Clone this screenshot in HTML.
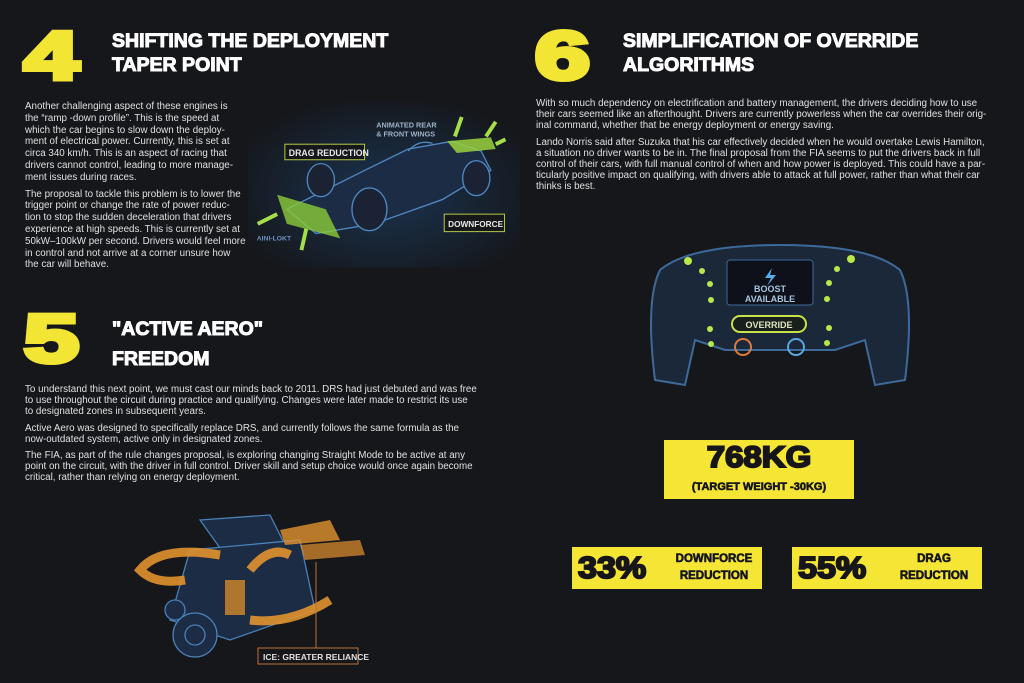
<!DOCTYPE html>
<html><head><meta charset="utf-8"><style>
*{margin:0;padding:0;box-sizing:border-box}
body{width:1024px;height:683px;background:#15171b;position:relative;overflow:hidden;font-family:"Liberation Sans",sans-serif;color:#e4e4e4}
.a{position:absolute}
.big{position:absolute;color:#f3e533;font-weight:bold;font-size:68px;line-height:1;transform:scaleX(1.45);transform-origin:left top;-webkit-text-stroke:5px #f3e533}
.h{position:absolute;color:#fff;font-weight:bold;font-size:19.5px;line-height:24px;-webkit-text-stroke:1px #fff}
.p{position:absolute;font-size:9.8px;line-height:11.2px;color:#e0e0e0;white-space:nowrap}
.p div{margin-bottom:5px}
.y{position:absolute;background:#f5e636;color:#16161a;font-weight:bold;text-align:center}
.y .s{-webkit-text-stroke:0.6px #16161a}
</style></head><body>

<div class="big" style="left:24px;top:22px">4</div>
<div class="h" style="left:112px;top:29px">SHIFTING THE DEPLOYMENT<br>TAPER POINT</div>
<div class="big" style="left:535px;top:22px">6</div>
<div class="h" style="left:623px;top:29px">SIMPLIFICATION OF OVERRIDE<br>ALGORITHMS</div>
<div class="big" style="left:24px;top:305px">5</div>
<div class="h" style="left:112px;top:314px;line-height:30px">"ACTIVE AERO"<br>FREEDOM</div>

<div class="p" style="left:25px;top:101px;line-height:11.8px"><div>Another challenging aspect of these engines is<br>the “ramp -down profile”. This is the speed at<br>which the car begins to slow down the deploy-<br>ment of electrical power. Currently, this is set at<br>circa 340 km/h. This is an aspect of racing that<br>drivers cannot control, leading to more manage-<br>ment issues during races.</div><div>The proposal to tackle this problem is to lower the<br>trigger point or change the rate of power reduc-<br>tion to stop the sudden deceleration that drivers<br>experience at high speeds. This is currently set at<br>50kW–100kW per second. Drivers would feel more<br>in control and not arrive at a corner unsure how<br>the car will behave.</div></div>

<div class="p" style="left:536px;top:98px"><div>With so much dependency on electrification and battery management, the drivers deciding how to use<br>their cars seemed like an afterthought. Drivers are currently powerless when the car overrides their orig-<br>inal command, whether that be energy deployment or energy saving.</div><div>Lando Norris said after Suzuka that his car effectively decided when he would overtake Lewis Hamilton,<br>a situation no driver wants to be in. The final proposal from the FIA seems to put the drivers back in full<br>control of their cars, with full manual control of when and how power is deployed. This could have a par-<br>ticularly positive impact on qualifying, with drivers able to attack at full power, rather than what their car<br>thinks is best.</div></div>

<div class="p" style="left:25px;top:384px"><div>To understand this next point, we must cast our minds back to 2011. DRS had just debuted and was free<br>to use throughout the circuit during practice and qualifying. Changes were later made to restrict its use<br>to designated zones in subsequent years.</div><div>Active Aero was designed to specifically replace DRS, and currently follows the same formula as the<br>now-outdated system, active only in designated zones.</div><div>The FIA, as part of the rule changes proposal, is exploring changing Straight Mode to be active at any<br>point on the circuit, with the driver in full control. Driver skill and setup choice would once again become<br>critical, rather than relying on energy deployment.</div></div>

<!-- car -->
<svg class="a" style="left:248px;top:100px" width="272" height="170" viewBox="0 0 280 170">
<defs><radialGradient id="cg" cx="50%" cy="55%" r="60%"><stop offset="0" stop-color="#1b3450"/><stop offset="1" stop-color="#15171b"/></radialGradient></defs>
<rect width="280" height="170" fill="url(#cg)"/>
<g fill="none" stroke="#4d86c0" stroke-width="1.4">
<path d="M40 110 L120 70 L165 48 L210 40 L240 50 L250 70 L200 100 L130 125 L70 135 Z" fill="#1c2c44"/>
<ellipse cx="125" cy="110" rx="18" ry="22" fill="#1a2233"/>
<ellipse cx="235" cy="78" rx="14" ry="18" fill="#1a2233"/>
<ellipse cx="75" cy="80" rx="14" ry="17" fill="#1a2233"/>
<path d="M165 50 Q175 38 190 42"/>
</g>
<path d="M30 95 L80 110 L95 140 L40 125 Z" fill="#8ccc3a" opacity=".8"/>
<path d="M205 40 L250 36 L255 48 L215 52 Z" fill="#9ad23e" opacity=".85"/>
<g stroke="#a6df4a" stroke-width="4" fill="none"><path d="M30 115 L10 125"/><path d="M60 130 L55 152"/><path d="M213 35 L220 15"/><path d="M245 35 L255 20"/><path d="M255 43 L265 38"/></g>
<rect x="38" y="43" width="82" height="16" fill="#15171b" stroke="#b9cf4a"/>
<text x="42" y="55" font-size="9" fill="#e8e8e8" font-weight="bold" font-family="Liberation Sans">DRAG REDUCTION</text>
<rect x="202" y="115" width="62" height="18" fill="#15171b" stroke="#b9cf4a"/>
<text x="206" y="128" font-size="8.5" fill="#e8e8e8" font-weight="bold" font-family="Liberation Sans">DOWNFORCE</text>
<text x="132" y="26" font-size="7.5" fill="#a0b2c8" font-weight="bold" font-family="Liberation Sans">ANIMATED REAR</text>
<text x="132" y="35" font-size="7.5" fill="#a0b2c8" font-weight="bold" font-family="Liberation Sans">&amp; FRONT WINGS</text>
<text x="9" y="142" font-size="7" fill="#6d8fc0" font-weight="bold" font-family="Liberation Sans">AINI-LOKT</text>
</svg>

<!-- steering wheel -->
<svg class="a" style="left:640px;top:240px" width="280" height="150" viewBox="0 0 280 150">
<path d="M20 30 Q50 5 140 5 Q230 5 260 30 Q275 60 265 140 L235 145 L225 100 L195 110 L85 110 L55 100 L45 145 L15 140 Q5 60 20 30 Z" fill="#1b283a" stroke="#3d6a9a" stroke-width="2"/>
<rect x="87" y="20" width="86" height="45" rx="3" fill="#0e1119" stroke="#3d6a9a"/>
<text x="130" y="52" font-size="9" fill="#a8c4e0" font-weight="bold" text-anchor="middle" font-family="Liberation Sans">BOOST</text>
<text x="130" y="62" font-size="9" fill="#a8c4e0" font-weight="bold" text-anchor="middle" font-family="Liberation Sans">AVAILABLE</text>
<path d="M132 28 L125 38 L131 38 L127 46 L136 35 L130 35 Z" fill="#5aaee8"/>
<rect x="92" y="76" width="74" height="16" rx="8" fill="#17201a" stroke="#c9e14a" stroke-width="2"/>
<text x="129" y="88" font-size="9" fill="#e0e6c0" font-weight="bold" text-anchor="middle" font-family="Liberation Sans">OVERRIDE</text>
<circle cx="103" cy="107" r="8" fill="none" stroke="#e07a3a" stroke-width="2"/>
<circle cx="156" cy="107" r="8" fill="none" stroke="#5aa8e0" stroke-width="2"/>
<g fill="#b8e84a"><circle cx="48" cy="21" r="4"/><circle cx="62" cy="31" r="3"/><circle cx="70" cy="44" r="3"/><circle cx="71" cy="60" r="3"/><circle cx="70" cy="89" r="3"/><circle cx="71" cy="104" r="3"/>
<circle cx="211" cy="19" r="4"/><circle cx="197" cy="29" r="3"/><circle cx="189" cy="43" r="3"/><circle cx="187" cy="59" r="3"/><circle cx="189" cy="88" r="3"/><circle cx="187" cy="103" r="3"/></g>
</svg>

<!-- engine -->
<svg class="a" style="left:100px;top:500px" width="300" height="170" viewBox="0 0 300 170">
<g fill="#1c2c44" stroke="#4a80b8" stroke-width="1.3">
<path d="M100 20 L170 15 L185 45 L125 55 Z"/>
<path d="M90 50 L200 40 L215 110 L130 140 L70 120 Z"/>
<circle cx="95" cy="135" r="22"/><circle cx="95" cy="135" r="10"/>
<circle cx="75" cy="110" r="10"/>
</g>
<g fill="none" stroke="#e2922e" stroke-width="9" opacity=".9">
<path d="M120 55 Q60 45 40 70 Q55 85 85 80"/>
<path d="M150 70 Q170 45 190 55"/>
<path d="M150 120 Q190 125 230 100"/>
</g>
<path d="M180 30 L230 20 L240 40 L185 45 Z" fill="#e2922e" opacity=".8"/>
<path d="M200 45 L260 40 L265 55 L205 60 Z" fill="#e2922e" opacity=".7"/>
<rect x="125" y="80" width="20" height="35" fill="#d48a2a" opacity=".8"/>
<path d="M216 62 L216 150" stroke="#c0703a"/>
<rect x="158" y="148" width="100" height="16" fill="#15171b" stroke="#c0703a"/>
<text x="163" y="160" font-size="8.5" fill="#e0e0e0" font-weight="bold" font-family="Liberation Sans">ICE: GREATER RELIANCE</text>
</svg>

<div class="y" style="left:664px;top:440px;width:190px;height:59px">
<div class="s" style="font-size:30px;line-height:34px;margin-top:1px;transform:scaleX(1.1);-webkit-text-stroke:2px #16161a">768KG</div>
<div class="s" style="font-size:11px;line-height:14px;margin-top:5px">(TARGET WEIGHT -30KG)</div></div>

<div class="y" style="left:572px;top:547px;width:190px;height:42px">
<div class="a" style="left:6px;top:4px;font-size:31px;line-height:34px;transform:scaleX(1.1);transform-origin:left;-webkit-text-stroke:2px #16161a">33%</div>
<div class="a s" style="left:100px;top:4px;width:84px;font-size:11.5px;line-height:17px">DOWNFORCE<br>REDUCTION</div></div>

<div class="y" style="left:792px;top:547px;width:190px;height:42px">
<div class="a" style="left:6px;top:4px;font-size:31px;line-height:34px;transform:scaleX(1.1);transform-origin:left;-webkit-text-stroke:2px #16161a">55%</div>
<div class="a s" style="left:100px;top:4px;width:84px;font-size:11.5px;line-height:17px">DRAG<br>REDUCTION</div></div>

</body></html>
